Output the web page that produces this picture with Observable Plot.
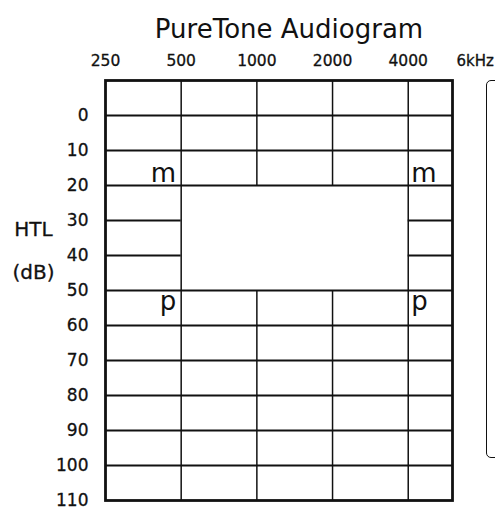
<!DOCTYPE html>
<html><head><meta charset="utf-8">
<script src="https://cdn.jsdelivr.net/npm/d3@7"></script>
<script src="https://cdn.jsdelivr.net/npm/@observablehq/plot@0.6"></script>
<style>
body{margin:0;background:#fff;overflow:hidden}
#wrap{position:relative;width:495px;height:508px}
#box{position:absolute;left:486px;top:80px;width:40px;height:376px;border:1.5px solid #111;border-radius:5px}
</style></head><body><div id="wrap"><div id="box"></div></div>
<script>
const title = "PureTone Audiogram";
const freqTicks = [250, 500, 1000, 2000, 4000];
const freqDomain = [250, 6000];
const freqEndLabel = "6kHz";
const gridFreqs = [500, 1000, 2000, 4000];
const dbDomain = [-10, 110];
const dbTicks = [0, 10, 20, 30, 40, 50, 60, 70, 80, 90, 100, 110];
const gridLevels = [0, 10, 20, 30, 40, 50, 60, 70, 80, 90, 100];
const blankFreq = [500, 4000];
const blankDb = [20, 50];
const markLabels = ["m", "m", "p", "p"];
const markFreqs = [500, 4000, 500, 4000];
const markDb = [19, 19, 55.5, 55.5];
const markSide = ["left", "right", "left", "right"];
const yLabelLines = ["HTL", "(dB)"];
const yLabelDb = [32.6, 45];

const hSegs = [];
for (const db of gridLevels) {
  if (db > blankDb[0] && db < blankDb[1]) {
    hSegs.push({db, x1: freqDomain[0], x2: blankFreq[0]});
    hSegs.push({db, x1: blankFreq[1], x2: freqDomain[1]});
  } else hSegs.push({db, x1: freqDomain[0], x2: freqDomain[1]});
}
const vSegs = [];
for (const f of gridFreqs) {
  if (f > blankFreq[0] && f < blankFreq[1]) {
    vSegs.push({f, y1: dbDomain[0], y2: blankDb[0]});
    vSegs.push({f, y1: blankDb[1], y2: dbDomain[1]});
  } else vSegs.push({f, y1: dbDomain[0], y2: dbDomain[1]});
}
const marks = markLabels.map((t, i) => ({t, f: markFreqs[i], db: markDb[i], side: markSide[i]}));
const yLab = yLabelLines.map((t, i) => ({t, db: yLabelDb[i]}));
const ink = "#111";
const thick = {stroke: ink, strokeWidth: 0.3};

const chart = Plot.plot({
  width: 495, height: 508,
  marginTop: 80, marginBottom: 8, marginLeft: 105, marginRight: 43,
  style: {fontFamily: "DejaVu Sans, sans-serif", fontSize: "17px", color: ink, background: "transparent", overflow: "visible"},
  x: {type: "log", domain: freqDomain, axis: null},
  y: {domain: dbDomain, reverse: true, axis: null},
  marks: [
    Plot.ruleY(hSegs, {y: "db", x1: "x1", x2: "x2", stroke: ink, strokeWidth: 1.9}),
    Plot.ruleX(vSegs, {x: "f", y1: "y1", y2: "y2", stroke: ink, strokeWidth: 1.5}),
    Plot.frame({stroke: ink, strokeWidth: 2.8}),
    Plot.text(freqTicks, {x: d => d, frameAnchor: "top", lineAnchor: "bottom", dy: -15, text: d => String(d), fontSize: 15.5, fill: ink, ...thick}),
    Plot.text([freqDomain[1]], {x: d => d, frameAnchor: "top", textAnchor: "start", lineAnchor: "bottom", dx: 4, dy: -15, text: () => freqEndLabel, fontSize: 15, fill: ink, ...thick}),
    Plot.text(dbTicks, {y: d => d, frameAnchor: "left", textAnchor: "end", dx: -17, text: d => String(d), fontSize: 17, fill: ink, ...thick}),
    Plot.text(yLab, {y: "db", text: "t", frameAnchor: "left", textAnchor: "middle", dx: -72, fontSize: 20, fill: ink, ...thick}),
    Plot.text(marks.filter(d => d.side === "left"), {x: "f", y: "db", text: "t", textAnchor: "end", lineAnchor: "bottom", dx: -5, fontSize: 26, fill: ink}),
    Plot.text(marks.filter(d => d.side === "right"), {x: "f", y: "db", text: "t", textAnchor: "start", lineAnchor: "bottom", dx: 3, fontSize: 26, fill: ink}),
    Plot.text([title], {frameAnchor: "top", lineAnchor: "bottom", dx: 10, dy: -43, fontSize: 26, fill: ink})
  ]
});
document.getElementById("wrap").prepend(chart);
chart.style.position = "absolute";
chart.style.left = "0"; chart.style.top = "0";
</script></body></html>
